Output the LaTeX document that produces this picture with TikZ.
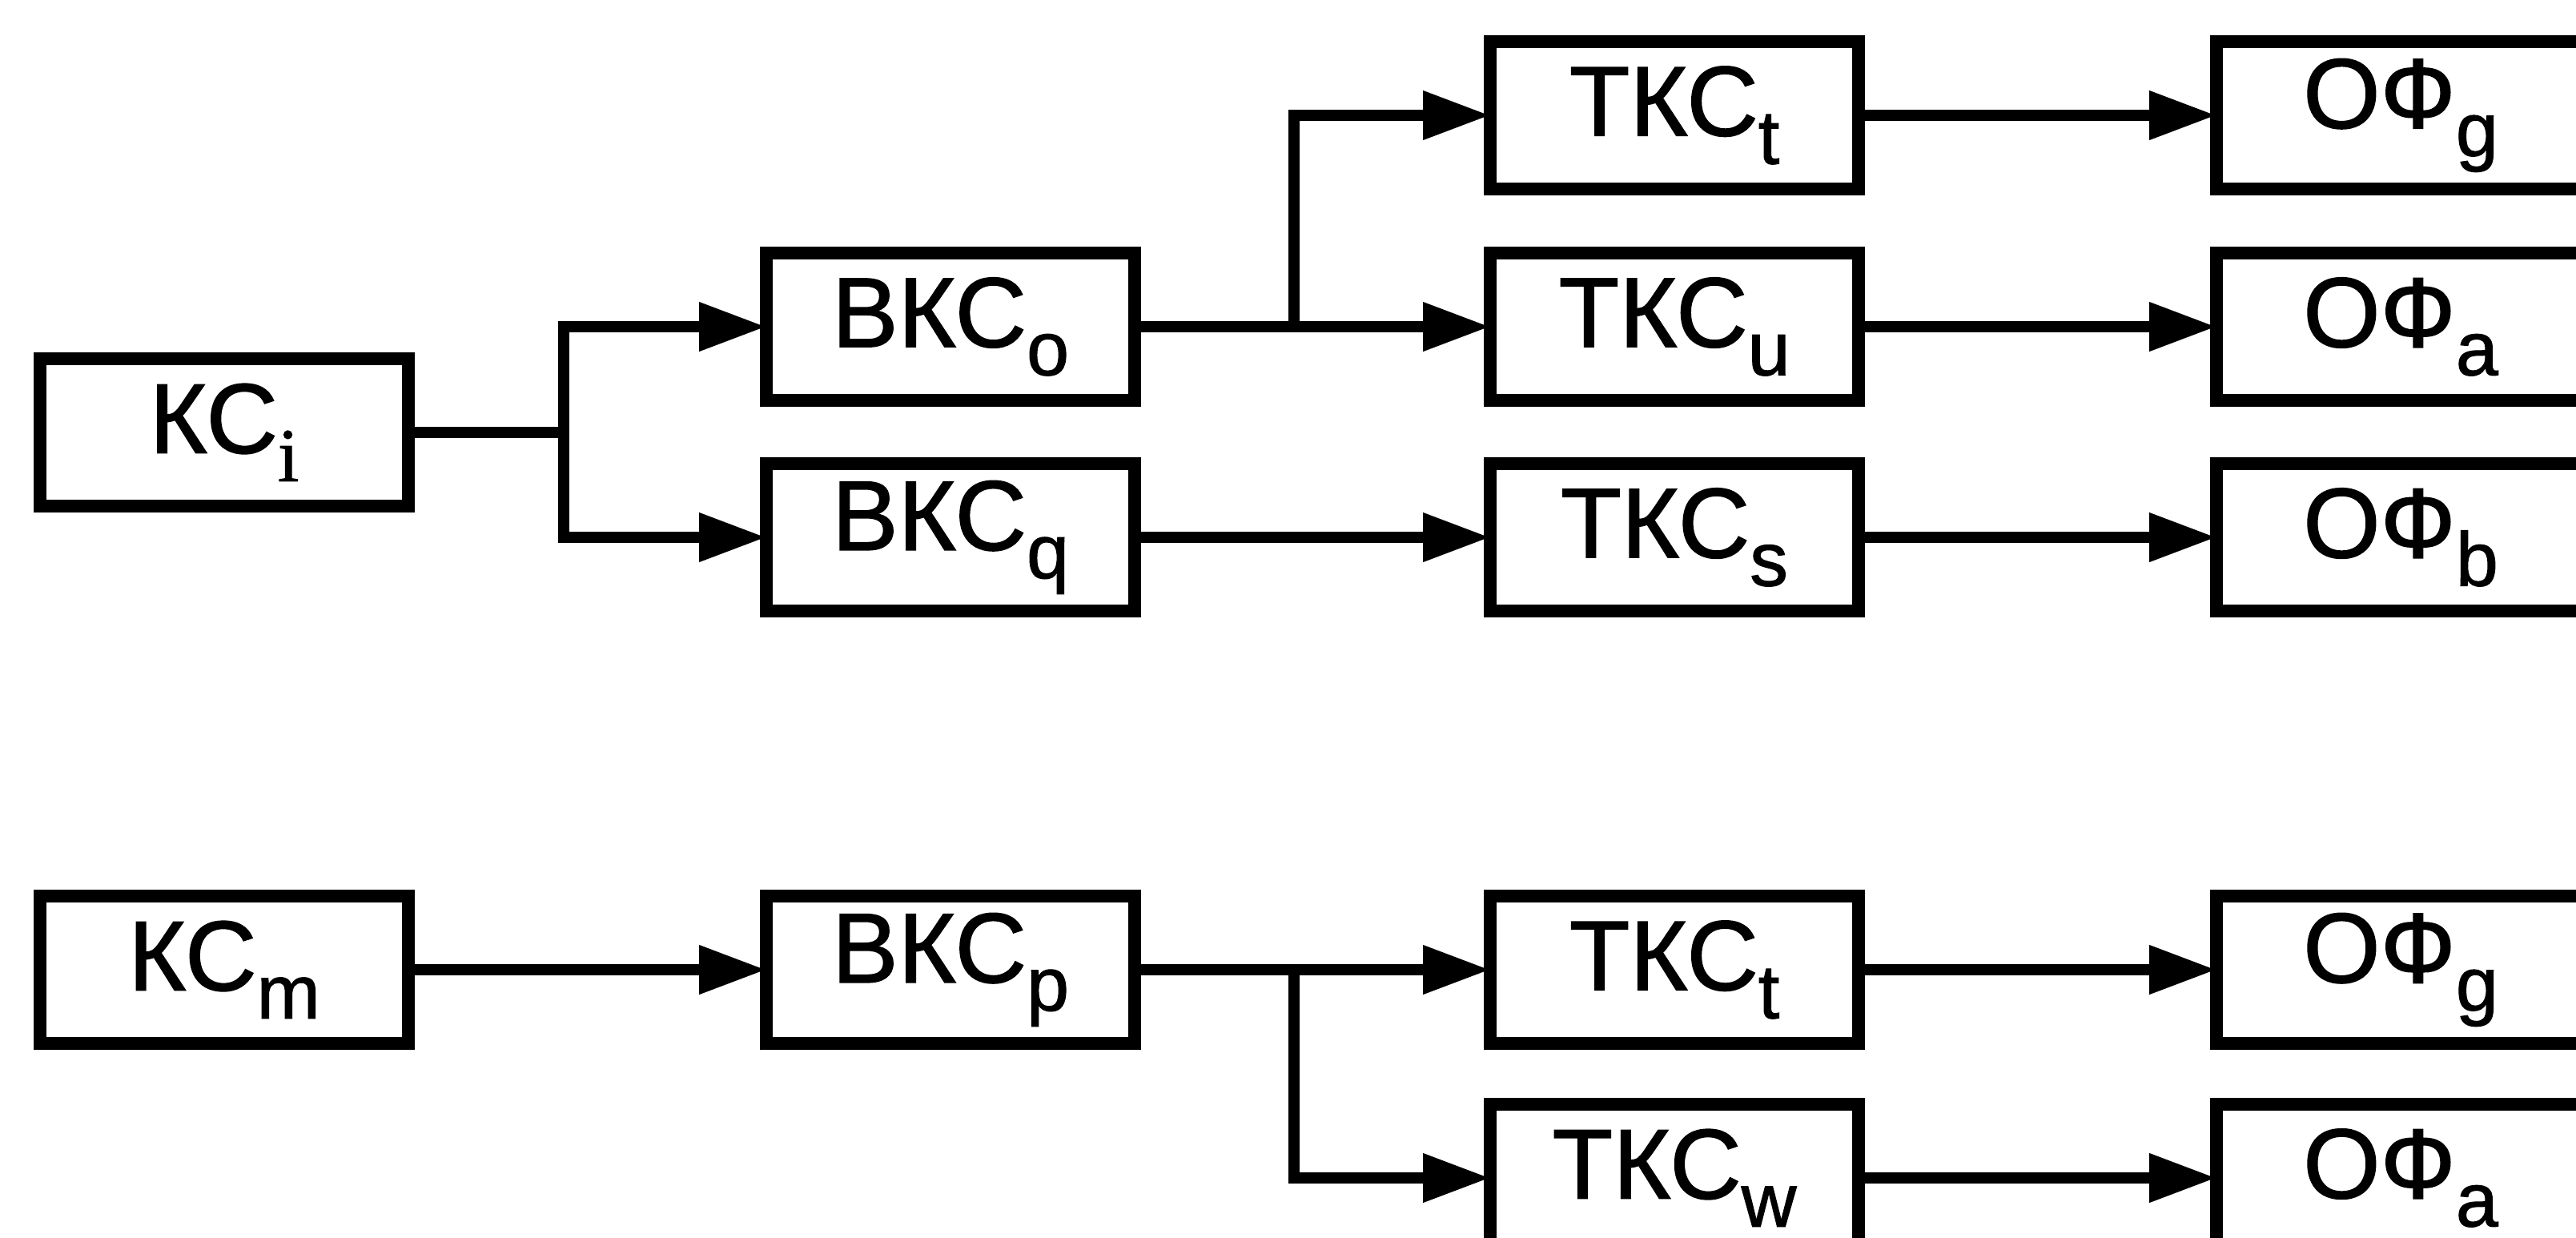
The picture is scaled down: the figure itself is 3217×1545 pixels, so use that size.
\documentclass[tikz,border=0pt]{standalone}
\usepackage{fontspec}
\setmainfont{Liberation Sans}[FakeBold=1.2]
\newfontfamily\serifi{Liberation Serif}[FakeBold=1.2]
\usetikzlibrary{arrows.meta}
\newcommand\mylbl[2]{\fontsize{31}{31}\selectfont #1\raisebox{-8.8pt}{\fontsize{23.8}{24}\selectfont #2}}
\begin{document}
\begin{tikzpicture}[x=0.25pt,y=-0.25pt,
  box/.style={draw, line width=4pt, minimum width=115pt, minimum height=46pt, inner sep=0pt, outer sep=0pt},
  conn/.style={line width=3.5pt, -{Triangle[length=21pt,width=14.5pt]}},
  wire/.style={line width=3.5pt}]
\clip (0,0) rectangle (3217,1545);
% upper group
\node[box] (kci)  at (280,540)  {\mylbl{КС}{\serifi i}};
\node[box] (bkco) at (1187,408) {\mylbl{ВКС}{o}};
\node[box] (bkcq) at (1187,671) {\mylbl{ВКС}{q}};
\node[box] (tkct) at (2091,144) {\mylbl{ТКС}{t}};
\node[box] (tkcu) at (2091,408) {\mylbl{ТКС}{u}};
\node[box] (tkcs) at (2091,671) {\mylbl{ТКС}{s}};
\node[box] (ofg)  at (2998,144) {\mylbl{ОФ}{g}};
\node[box] (ofa)  at (2998,408) {\mylbl{ОФ}{a}};
\node[box] (ofb)  at (2998,671) {\mylbl{ОФ}{b}};
% lower group
\node[box] (kcm)  at (280,1211)  {\mylbl{КС}{m}};
\node[box] (bkcp) at (1187,1211) {\mylbl{ВКС}{p}};
\node[box] (tkct2) at (2091,1211) {\mylbl{ТКС}{t}};
\node[box] (tkcw) at (2091,1471) {\mylbl{ТКС}{w}};
\node[box] (ofg2) at (2998,1211) {\mylbl{ОФ}{g}};
\node[box] (ofa2) at (2998,1471) {\mylbl{ОФ}{a}};
% junctions
\coordinate (j1) at (704,540);
\coordinate (j2) at (1616,408);
\coordinate (j3) at (1616,1211);
% connectors upper
\draw[wire] (kci.east) -- (j1);
\draw[conn] (j1) |- (bkco.west);
\draw[conn] (j1) |- (bkcq.west);
\draw[conn] (bkco.east) -- (tkcu.west);
\draw[conn] (j2) |- (tkct.west);
\draw[conn] (bkcq.east) -- (tkcs.west);
\draw[conn] (tkct.east) -- (ofg.west);
\draw[conn] (tkcu.east) -- (ofa.west);
\draw[conn] (tkcs.east) -- (ofb.west);
% connectors lower
\draw[conn] (kcm.east) -- (bkcp.west);
\draw[conn] (bkcp.east) -- (tkct2.west);
\draw[conn] (j3) |- (tkcw.west);
\draw[conn] (tkct2.east) -- (ofg2.west);
\draw[conn] (tkcw.east) -- (ofa2.west);
\end{tikzpicture}
\end{document}
